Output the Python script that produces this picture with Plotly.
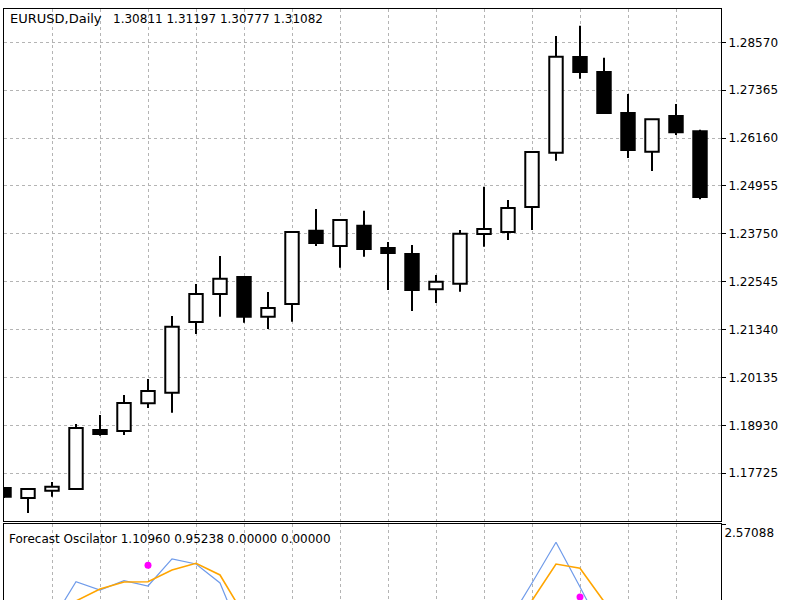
import plotly.graph_objects as go

# ---- data ----
bars = list(range(30))
opens = [1.17355, 1.17103, 1.17287, 1.17330, 1.18814, 1.18789, 1.19486, 1.19753, 1.21532, 1.22236,
         1.22664, 1.21665, 1.21985, 1.23829, 1.23444, 1.23955, 1.23394, 1.23243, 1.22355, 1.22496,
         1.23746, 1.23797, 1.24426, 1.25792, 1.28200, 1.27823, 1.26791, 1.25817, 1.26715, 1.26330]
highs = [1.17380, 1.17340, 1.17506, 1.18965, 1.19192, 1.19695, 1.20098, 1.21683, 1.22488, 1.23193,
         1.22680, 1.22287, 1.23810, 1.24375, 1.24110, 1.24333, 1.23545, 1.23469, 1.22715, 1.23847,
         1.24936, 1.24602, 1.25820, 1.28729, 1.28988, 1.28183, 1.27269, 1.26640, 1.27017, 1.26371]
lows = [1.17100, 1.16726, 1.17136, 1.17320, 1.18671, 1.18688, 1.19368, 1.19250, 1.21230, 1.21665,
        1.21514, 1.21356, 1.21539, 1.23444, 1.22898, 1.23175, 1.22337, 1.21809, 1.22010, 1.22294,
        1.23427, 1.23595, 1.23847, 1.25591, 1.27654, 1.26766, 1.25659, 1.25332, 1.26237, 1.24619]
closes = [1.17136, 1.17330, 1.17388, 1.18865, 1.18714, 1.19494, 1.19796, 1.21414, 1.22236, 1.22621,
          1.21665, 1.21884, 1.23797, 1.23520, 1.24099, 1.23369, 1.23268, 1.22337, 1.22546, 1.23754,
          1.23872, 1.24400, 1.25810, 1.28208, 1.27823, 1.26791, 1.25860, 1.26632, 1.26305, 1.24677]

forecast_osc = [0.50, 0.70, 0.954, 1.609, 1.471, 1.626, 1.538, 1.988, 1.904, 1.588,
                0.621, 0.35, 0.45, 0.55, 0.70, 0.60, 0.50, 0.30, 0.40, 0.80,
                0.90, 0.927, 1.588, 2.266, 1.521, 0.754, 0.70, 0.90, 1.00, 1.1096]
signal_line = [0.80, 0.90, 1.004, 1.288, 1.488, 1.604, 1.609, 1.804, 1.916, 1.721,
               1.054, 0.80, 0.60, 0.55, 0.60, 0.62, 0.58, 0.50, 0.45, 0.60,
               0.75, 0.95, 1.296, 1.904, 1.833, 1.279, 1.10, 1.00, 0.97, 0.95238]
arrows = [None] * 30
arrows[6] = 1.883
arrows[24] = 1.354

price_ticks = [1.17725, 1.18930, 1.20135, 1.21340, 1.22545, 1.23750, 1.24955, 1.26160, 1.27365, 1.28570]
osc_ticks = [2.57088]
x_grid = list(range(0, 30, 2))

symbol_label = "EURUSD,Daily"
bar_values = ["1.30811", "1.31197", "1.30777", "1.31082"]
osc_title = "Forecast Oscilator 1.10960 0.95238 0.00000 0.00000"

# ---- build ----
FONT = "DejaVu Sans"
GRID = "#b4b4b4"

fig = go.Figure()

# wicks (upper and lower segments, so bodies stay clean)
wx, wy = [], []
for i, o, h, l, c in zip(bars, opens, highs, lows, closes):
    top, bot = max(o, c), min(o, c)
    wx += [i, i, None, i, i, None]
    wy += [h, top, None, bot, l, None]
fig.add_trace(go.Scatter(x=wx, y=wy, mode="lines", line=dict(color="black", width=2),
                         xaxis="x", yaxis="y", hoverinfo="skip", showlegend=False))

# bodies
fig.add_trace(go.Bar(
    x=bars,
    base=[min(o, c) for o, c in zip(opens, closes)],
    y=[abs(c - o) for o, c in zip(opens, closes)],
    width=0.56,
    marker=dict(color=["white" if c >= o else "black" for o, c in zip(opens, closes)],
                line=dict(color="black", width=2)),
    xaxis="x", yaxis="y", showlegend=False, hoverinfo="skip"))

# oscillator
fig.add_trace(go.Scatter(x=bars, y=forecast_osc, mode="lines", line=dict(color="#6f9bea", width=1.2),
                         xaxis="x2", yaxis="y2", showlegend=False))
fig.add_trace(go.Scatter(x=bars, y=signal_line, mode="lines", line=dict(color="#ffa500", width=1.6),
                         xaxis="x2", yaxis="y2", showlegend=False))
fig.add_trace(go.Scatter(x=bars, y=arrows, mode="markers", marker=dict(color="#ff00ff", size=7),
                         xaxis="x2", yaxis="y2", showlegend=False, cliponaxis=True))

xr = [0, 717 / 24]
common_x = dict(range=xr, tickvals=x_grid, showticklabels=False, ticks="",
                showgrid=True, gridcolor=GRID, griddash="3px,3px", gridwidth=1,
                showline=True, linecolor="black", linewidth=1, mirror=True, zeroline=False)

NB = "\u00a0"
main_title = (f'<span style="font-size:13px">{symbol_label}</span>' + NB * 3
              + " ".join(bar_values))

fig.update_layout(
    width=800, height=600,
    margin=dict(l=4, r=79, t=9, b=0),
    paper_bgcolor="white", plot_bgcolor="white",
    font=dict(family=FONT, size=12, color="black"),
    showlegend=False,
    xaxis=dict(domain=[0, 1], anchor="y", **common_x),
    xaxis2=dict(domain=[0, 1], anchor="y2", matches="x", **common_x),
    yaxis=dict(domain=[(600 - 521) / 591, 1], anchor="x", side="right",
               range=[1.16524, 1.29408], tickvals=price_ticks,
               ticktext=[f"{v:.5f}" for v in price_ticks],
               ticks="outside", ticklen=4, tickcolor="black", tickwidth=1,
               showgrid=True, gridcolor=GRID, griddash="3px,3px", gridwidth=1,
               showline=True, linecolor="black", linewidth=1, mirror=True, zeroline=False,
               tickfont=dict(family=FONT, size=12, color="black")),
    yaxis2=dict(domain=[0, (600 - 524) / 591], anchor="x2", side="right",
                range=[1.30421, 2.57088], tickvals=osc_ticks,
                ticktext=[f"{v:.5f}" for v in osc_ticks],
                ticks="outside", ticklen=4, tickcolor="black", tickwidth=1,
                ticklabelposition="outside bottom",
                showgrid=False, showline=True, linecolor="black", linewidth=1, mirror=True,
                zeroline=False, tickfont=dict(family=FONT, size=12, color="black")),
    annotations=[
        dict(text=main_title, xref="paper", yref="paper", x=(8 - 4) / 717, y=(600 - 18) / 591,
             xanchor="left", yanchor="middle", showarrow=False,
             font=dict(family=FONT, size=12, color="black")),
        dict(text=osc_title, xref="paper", yref="paper", x=(7 - 4) / 717, y=(600 - 539) / 591,
             xanchor="left", yanchor="middle", showarrow=False,
             font=dict(family=FONT, size=12, color="black")),
    ],
)

fig.write_html("out.html")
